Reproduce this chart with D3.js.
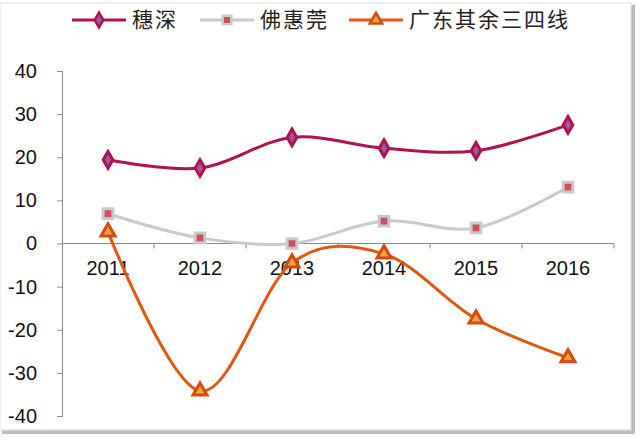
<!DOCTYPE html>
<html>
<head>
<meta charset="utf-8">
<script src="https://cdn.jsdelivr.net/npm/d3@7"></script>
<style>
  body { margin: 0; background: #fff; }
  svg { display: block; }
  .tick text { font-family: "Liberation Sans", Arial, sans-serif; font-size: 20px; fill: #111; }
  .legend text { font-family: "Noto Sans CJK SC", sans-serif; font-size: 21px; fill: #222; letter-spacing: 2px; }
</style>
</head>
<body>
<svg width="640" height="441"></svg>
<script>
var years = ['2011', '2012', '2013', '2014', '2015', '2016'];
var suishen = [19.4, 17.5, 24.6, 22.1, 21.5, 27.5];
var fohuiguan = [6.9, 1.3, 0.0, 5.2, 3.6, 13.1];
var others = [2.7, -34.2, -4.5, -2.4, -17.5, -26.5];
var yTicks = [-40, -30, -20, -10, 0, 10, 20, 30, 40];

var series = [
  { name: '穗深', values: suishen, line: '#b0124c', stroke: '#b0124c', fill: '#9a5aa8', shape: d3.symbolDiamond, size: 80 },
  { name: '佛惠莞', values: fohuiguan, line: '#c9c9c9', stroke: '#c9c9c9', fill: '#cf4f5f', shape: d3.symbolSquare, size: 95 },
  { name: '广东其余三四线', values: others, line: '#e0580e', stroke: '#d44a10', fill: '#f2a43a', shape: d3.symbolTriangle, size: 85 }
];

var svg = d3.select('svg');

// frame with shadow
svg.append('rect').attr('x', 2).attr('y', 5).attr('width', 633).attr('height', 429).attr('fill', '#bbb');
svg.append('rect').attr('x', 0).attr('y', 3).attr('width', 631).attr('height', 427)
  .attr('fill', '#fff').attr('stroke', '#ddd').attr('stroke-width', 1);

var x = d3.scaleBand().domain(years).range([62, 614]);
var y = d3.scaleLinear().domain([-40, 40]).range([416, 71]);

var yAxis = svg.append('g')
  .attr('transform', 'translate(62,0)')
  .call(d3.axisLeft(y).tickValues(yTicks).tickSize(5).tickPadding(20)
    .tickFormat(function(d) { return String(d); }));
yAxis.select('.domain').attr('stroke', '#888');
yAxis.selectAll('.tick line').attr('stroke', '#888');

var xAxis = svg.append('g')
  .attr('transform', 'translate(0,' + y(0) + ')')
  .call(d3.axisBottom(x).tickSize(0).tickPadding(14));
xAxis.select('.domain').attr('stroke', '#888').attr('d', 'M62,0H614');
xAxis.selectAll('.tick text').attr('dy', '0.85em');

// band boundary ticks
svg.append('g').selectAll('line')
  .data(years)
  .enter()
  .append('line')
    .attr('x1', function(d) { return x(d) + x.bandwidth(); })
    .attr('x2', function(d) { return x(d) + x.bandwidth(); })
    .attr('y1', y(0))
    .attr('y2', y(0) + 5)
    .attr('stroke', '#888');

var line = d3.line()
  .x(function(d, i) { return x(years[i]) + x.bandwidth() / 2; })
  .y(function(d) { return y(d); })
  .curve(d3.curveCatmullRom.alpha(0));

series.forEach(function(s) {
  svg.append('path')
    .datum(s.values)
    .attr('d', line)
    .attr('fill', 'none')
    .attr('stroke', s.line)
    .attr('stroke-width', 3);

  svg.append('g').selectAll('path')
    .data(s.values)
    .enter()
    .append('path')
      .attr('d', d3.symbol().type(s.shape).size(s.size))
      .attr('transform', function(d, i) {
        return 'translate(' + (x(years[i]) + x.bandwidth() / 2) + ',' + y(d) + ')';
      })
      .attr('fill', s.fill)
      .attr('stroke', s.stroke)
      .attr('stroke-width', 3);
});

// legend
var legendX = [72, 200, 349];
var legend = svg.append('g').attr('class', 'legend');
series.forEach(function(s, i) {
  var g = legend.append('g').attr('transform', 'translate(' + legendX[i] + ',20)');
  g.append('line').attr('x1', 0).attr('x2', 54).attr('y1', 0).attr('y2', 0)
    .attr('stroke', s.line).attr('stroke-width', 3);
  g.append('path')
    .attr('d', d3.symbol().type(s.shape).size(s.size * 0.8))
    .attr('transform', 'translate(27,0)')
    .attr('fill', s.fill)
    .attr('stroke', s.stroke)
    .attr('stroke-width', 2.5);
  g.append('text').attr('x', 60).attr('y', 0).attr('dy', '0.35em').text(s.name);
});
</script>
</body>
</html>
